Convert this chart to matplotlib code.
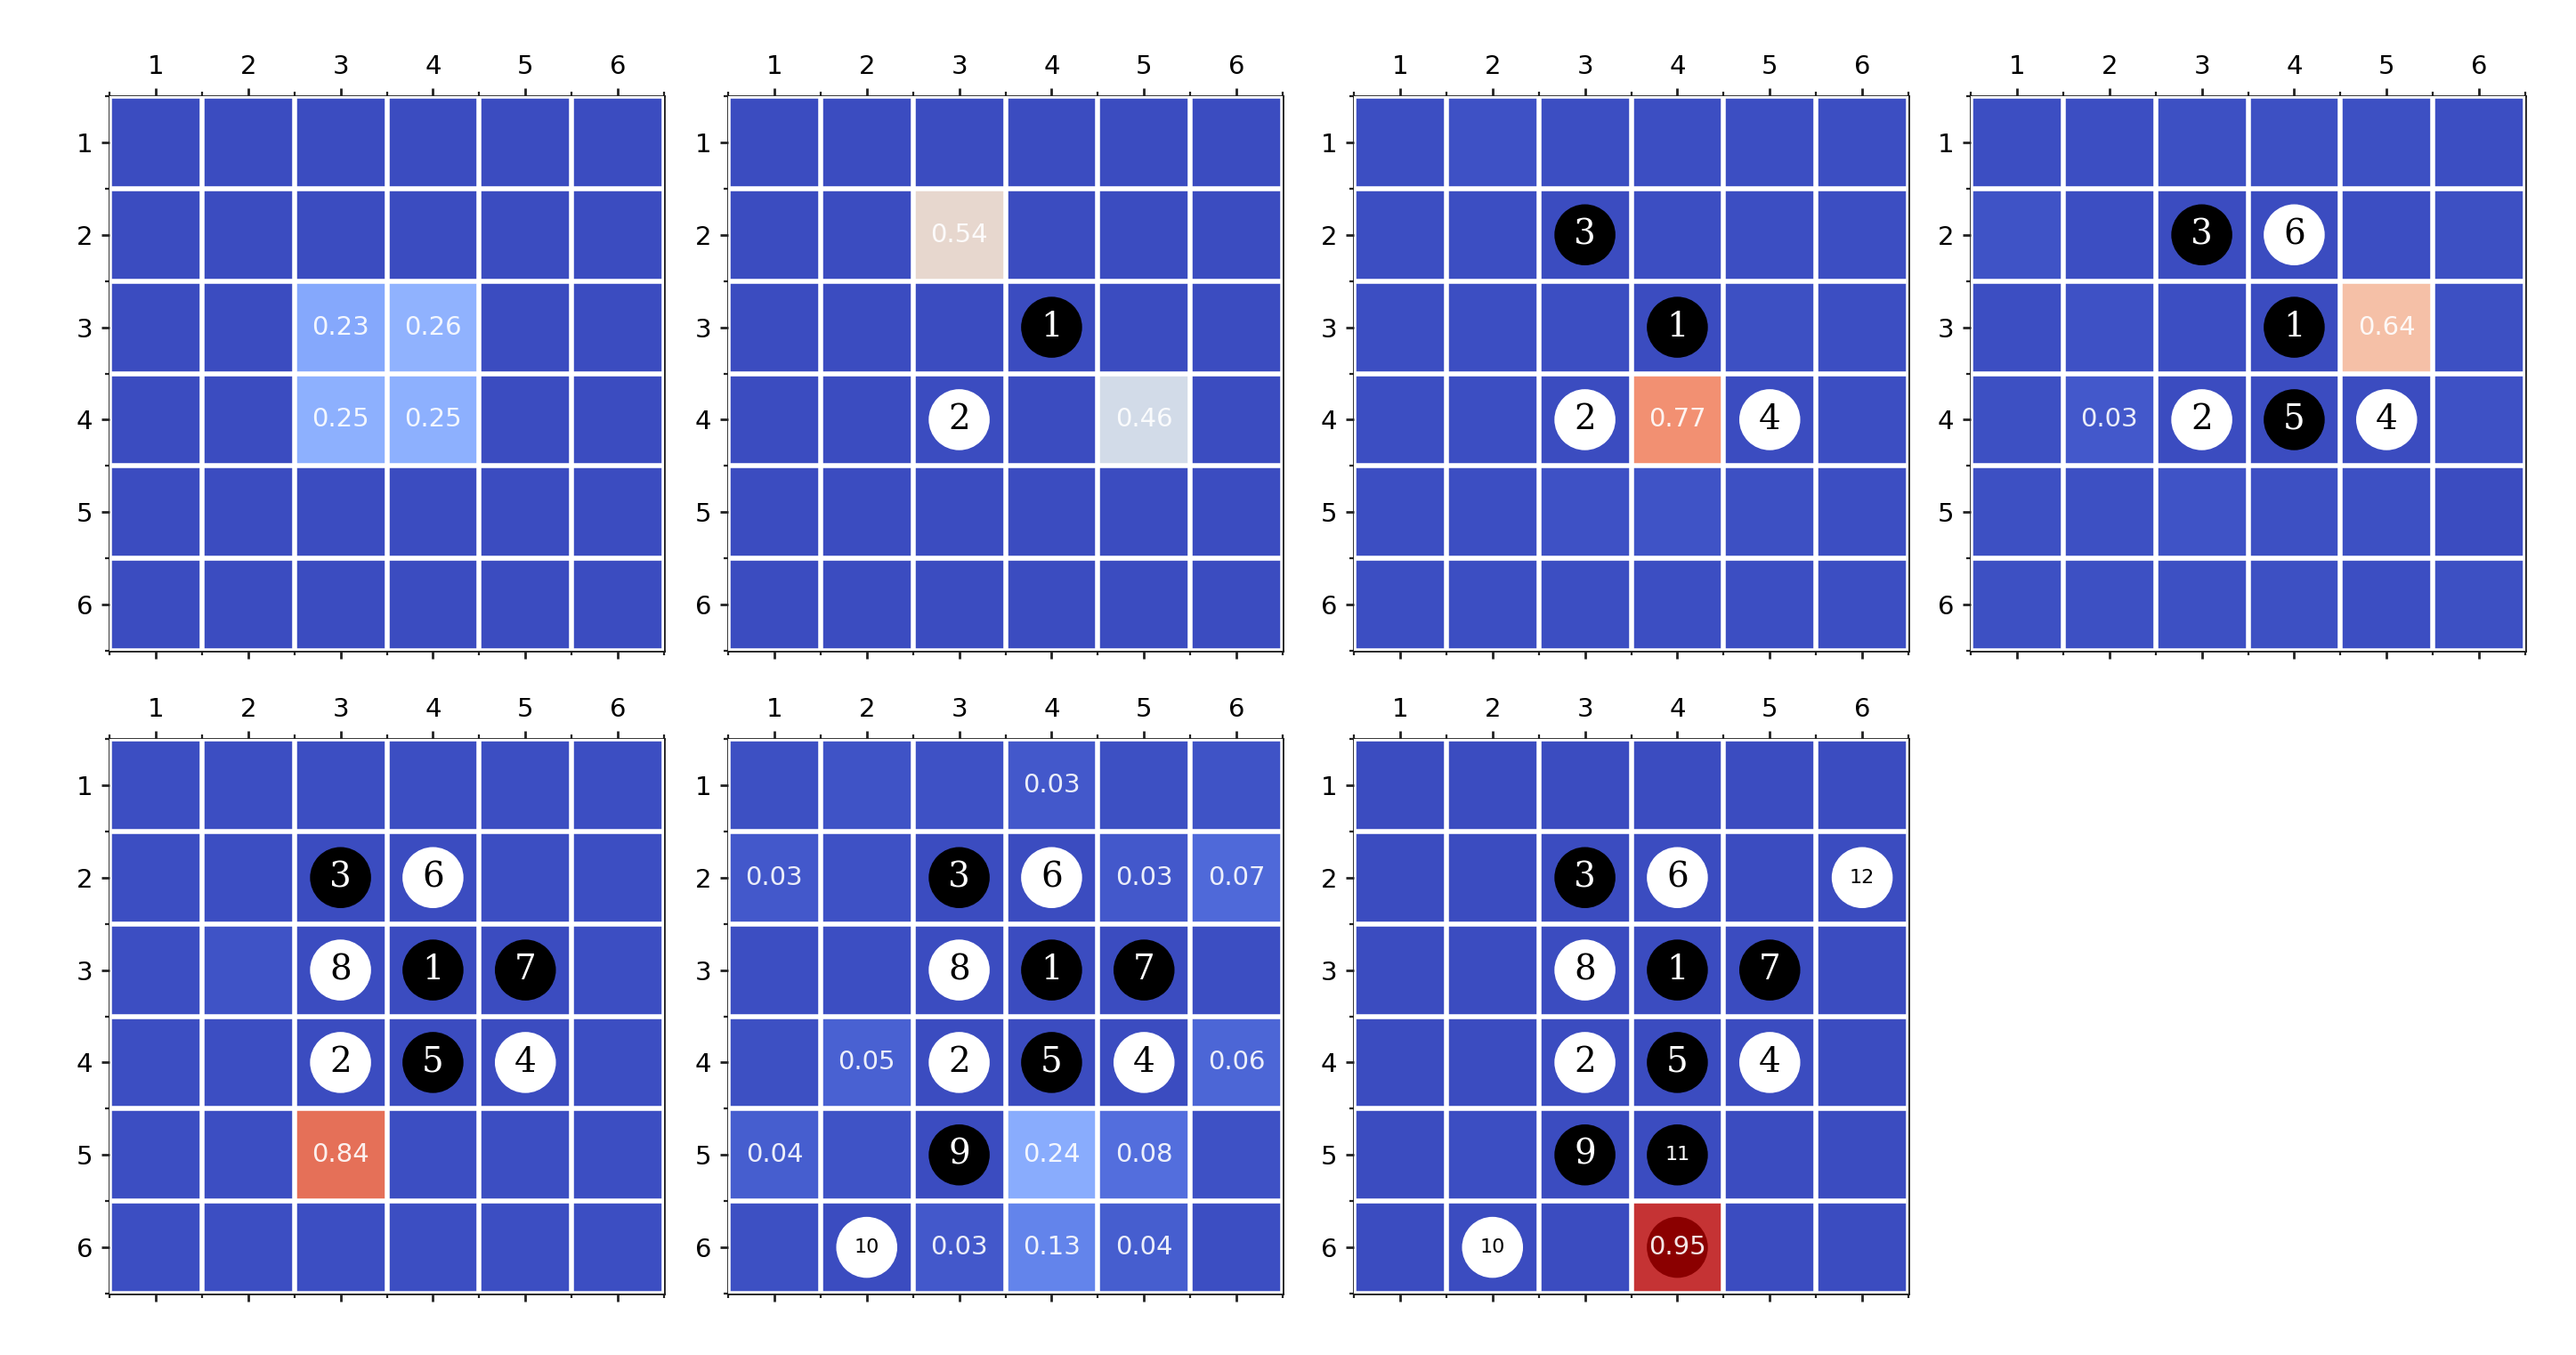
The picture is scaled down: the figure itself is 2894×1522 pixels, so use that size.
import numpy as np
import matplotlib
matplotlib.use("Agg")
import matplotlib.pyplot as plt
from matplotlib.patches import Circle

# ---- data ----
board_labels = [1, 2, 3, 4, 5, 6]

# move order: (row, col) of each stone, 1-based
move_rows = [3, 4, 2, 4, 4, 2, 3, 3, 5, 6, 5, 2]
move_cols = [4, 3, 3, 5, 4, 4, 5, 3, 3, 2, 4, 6]
stones_shown = [0, 2, 4, 6, 8, 10, 12]
final_move_row = 6
final_move_col = 4

probs_1 = [
    [0.00, 0.00, 0.00, 0.00, 0.00, 0.00],
    [0.00, 0.00, 0.00, 0.00, 0.00, 0.00],
    [0.00, 0.00, 0.23, 0.26, 0.00, 0.00],
    [0.00, 0.00, 0.25, 0.25, 0.00, 0.00],
    [0.00, 0.00, 0.00, 0.00, 0.00, 0.00],
    [0.00, 0.00, 0.00, 0.00, 0.00, 0.00],
]
probs_2 = [
    [0.00, 0.00, 0.00, 0.00, 0.00, 0.00],
    [0.00, 0.00, 0.54, 0.00, 0.00, 0.00],
    [0.00, 0.00, 0.00, 0.00, 0.00, 0.00],
    [0.00, 0.00, 0.00, 0.00, 0.46, 0.00],
    [0.00, 0.00, 0.00, 0.00, 0.00, 0.00],
    [0.00, 0.00, 0.00, 0.00, 0.00, 0.00],
]
probs_3 = [
    [0.004, 0.012, 0.006, 0.005, 0.004, 0.004],
    [0.005, 0.004, 0.000, 0.006, 0.006, 0.005],
    [0.005, 0.005, 0.006, 0.000, 0.008, 0.005],
    [0.004, 0.006, 0.000, 0.770, 0.000, 0.006],
    [0.006, 0.006, 0.012, 0.016, 0.008, 0.005],
    [0.004, 0.005, 0.006, 0.006, 0.005, 0.004],
]
probs_4 = [
    [0.006, 0.006, 0.008, 0.010, 0.008, 0.006],
    [0.016, 0.004, 0.000, 0.000, 0.004, 0.010],
    [0.006, 0.012, 0.006, 0.000, 0.640, 0.008],
    [0.008, 0.030, 0.000, 0.000, 0.000, 0.012],
    [0.010, 0.008, 0.018, 0.008, 0.008, 0.002],
    [0.010, 0.008, 0.010, 0.010, 0.006, 0.010],
]
probs_5 = [
    [0.004, 0.004, 0.005, 0.006, 0.005, 0.004],
    [0.004, 0.004, 0.000, 0.000, 0.006, 0.006],
    [0.004, 0.018, 0.000, 0.000, 0.000, 0.004],
    [0.004, 0.004, 0.000, 0.000, 0.000, 0.006],
    [0.004, 0.004, 0.840, 0.004, 0.005, 0.004],
    [0.004, 0.004, 0.005, 0.005, 0.004, 0.004],
]
probs_6 = [
    [0.010, 0.016, 0.014, 0.030, 0.008, 0.016],
    [0.030, 0.012, 0.000, 0.000, 0.030, 0.070],
    [0.006, 0.006, 0.000, 0.000, 0.000, 0.004],
    [0.008, 0.050, 0.000, 0.000, 0.000, 0.060],
    [0.040, 0.016, 0.000, 0.240, 0.080, 0.012],
    [0.008, 0.000, 0.030, 0.130, 0.040, 0.004],
]
probs_7 = [
    [0.002, 0.002, 0.002, 0.002, 0.002, 0.002],
    [0.002, 0.002, 0.000, 0.000, 0.002, 0.000],
    [0.002, 0.002, 0.000, 0.000, 0.000, 0.002],
    [0.002, 0.002, 0.000, 0.000, 0.000, 0.002],
    [0.002, 0.006, 0.000, 0.000, 0.002, 0.002],
    [0.002, 0.000, 0.002, 0.950, 0.002, 0.002],
]
all_probs = [probs_1, probs_2, probs_3, probs_4, probs_5, probs_6, probs_7]

# ---- figure ----
W, H, DPI = 2894, 1522, 200
fig = plt.figure(figsize=(W / DPI, H / DPI), dpi=DPI)

col_left_px = [123, 818, 1521, 2214]
row_top_px = [108, 830]
size_px = 623

edges = np.arange(0.5, 7.5, 1.0)
cmap = plt.get_cmap("coolwarm")

for k, probs in enumerate(all_probs):
    r, c = divmod(k, 4)
    left = col_left_px[c] / W
    bottom = 1 - (row_top_px[r] + size_px) / H
    ax = fig.add_axes([left, bottom, size_px / W, size_px / H])

    P = np.array(probs)
    ax.pcolormesh(edges, edges, P, cmap=cmap, vmin=0, vmax=1, zorder=0)
    ax.set_xlim(0.5, 6.5)
    ax.set_ylim(6.5, 0.5)
    ax.set_aspect("equal")

    ax.set_xticks(board_labels)
    ax.set_yticks(board_labels)
    ax.set_xticklabels([str(v) for v in board_labels])
    ax.set_yticklabels([str(v) for v in board_labels])
    ax.set_xticks(edges, minor=True)
    ax.set_yticks(edges, minor=True)
    ax.tick_params(which="both", top=True, bottom=True, left=True, right=False,
                   labeltop=True, labelbottom=False, labelleft=True, labelright=False,
                   labelsize=10.5, color="#222222")
    ax.tick_params(which="major", length=3.2, width=1.0)
    ax.tick_params(which="minor", length=1.8, width=0.8)
    ax.grid(which="minor", color="white", linewidth=2.0)
    ax.grid(which="major", visible=False)
    ax.set_axisbelow(False)
    for sp in ax.spines.values():
        sp.set_linewidth(1.0)
        sp.set_color("#222222")

    # stones
    n = stones_shown[k]
    for i in range(n):
        y = move_rows[i]
        x = move_cols[i]
        black = (i % 2 == 0)
        fc = "black" if black else "white"
        tc = "white" if black else "black"
        ax.add_patch(Circle((x, y), 0.33, facecolor=fc, edgecolor="none", zorder=3))
        num = i + 1
        if num < 10:
            ax.text(x, y, str(num), ha="center", va="center", color=tc,
                    fontsize=14, family="DejaVu Serif", zorder=4)
        else:
            ax.text(x, y, str(num), ha="center", va="center", color=tc,
                    fontsize=8, family="DejaVu Sans", zorder=4)

    if k == len(all_probs) - 1:
        ax.add_patch(Circle((final_move_col, final_move_row), 0.33,
                            facecolor="darkred", edgecolor="none", zorder=3))

    # probability labels
    for ri in range(6):
        for ci in range(6):
            v = P[ri, ci]
            if v >= 0.025:
                ax.text(ci + 1, ri + 1, f"{v:.2f}", ha="center", va="center",
                        color="white", fontsize=10.5, alpha=0.9, zorder=5)

fig.savefig("out.png", dpi=DPI)
